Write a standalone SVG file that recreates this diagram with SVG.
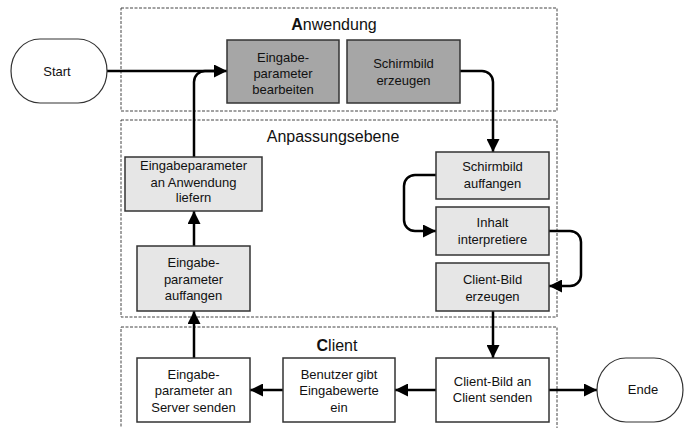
<svg xmlns="http://www.w3.org/2000/svg" width="684" height="428" viewBox="0 0 684 428">
<style>
  text { font-family: "Liberation Sans", Arial, sans-serif; fill: #111; }
  .lbl { font-size: 13px; text-anchor: middle; }
  .ttl { font-size: 16px; text-anchor: middle; }
  .grp { fill: none; stroke: #444; stroke-width: 1; stroke-dasharray: 3 1.5; }
  .dark { fill: #a6a6a6; stroke: #333; stroke-width: 1.5; }
  .light { fill: #e6e6e6; stroke: #333; stroke-width: 1.5; }
  .white { fill: #fff; stroke: #333; stroke-width: 1.5; }
  .term { fill: #fff; stroke: #333; stroke-width: 1.2; }
  .conn { fill: none; stroke: #000; stroke-width: 2.5; }
</style>
<defs>
  <marker id="arr" markerUnits="userSpaceOnUse" markerWidth="13" markerHeight="13" viewBox="0 0 12 12" refX="12" refY="6" orient="auto">
    <path d="M0,0 L12,6 L0,12 Z" fill="#000"/>
  </marker>
</defs>
<rect width="684" height="428" fill="#fff"/>

<g id="lanes">
  <g id="lane-anwendung">
    <rect class="grp" x="121" y="8" width="436" height="103"/>
    <text class="ttl" x="334" y="30"><tspan font-weight="bold">A</tspan>nwendung</text>
  </g>
  <g id="lane-anpassung">
    <rect class="grp" x="121" y="120" width="436" height="197"/>
    <text class="ttl" x="333" y="142">Anpassungsebene</text>
  </g>
  <g id="lane-client">
    <rect class="grp" x="121" y="327" width="436" height="120"/>
    <text class="ttl" x="337" y="351"><tspan font-weight="bold">C</tspan>lient</text>
  </g>
</g>

<g id="connectors">
  <path class="conn" d="M107,71 H227" marker-end="url(#arr)"/>
  <path class="conn" d="M194,157 V82 A11,11 0 0 1 205,71 H218"/>
  <path class="conn" d="M460,71 H482 A11,11 0 0 1 493,82 V152" marker-end="url(#arr)"/>
  <path class="conn" d="M436,175 H415 A11,11 0 0 0 404,186 V220 A11,11 0 0 0 415,231 H436" marker-end="url(#arr)"/>
  <path class="conn" d="M549,231 H570 A11,11 0 0 1 581,242 V275 A11,11 0 0 1 570,286 H549" marker-end="url(#arr)"/>
  <path class="conn" d="M493,311 V358" marker-end="url(#arr)"/>
  <path class="conn" d="M549,390 H597" marker-end="url(#arr)"/>
  <path class="conn" d="M436,390 H395" marker-end="url(#arr)"/>
  <path class="conn" d="M283,390 H250" marker-end="url(#arr)"/>
  <path class="conn" d="M194,358 V311" marker-end="url(#arr)"/>
  <path class="conn" d="M194,246 V211" marker-end="url(#arr)"/>
</g>

<g id="start">
  <path class="term" d="M40,39 H78 A29,32 0 0 1 78,103 H40 A29,32 0 0 1 40,39 Z"/>
  <text class="lbl" x="57" y="75.5">Start</text>
</g>

<g id="bearbeiten">
  <rect class="dark" x="227" y="40" width="112" height="63"/>
  <text class="lbl" x="283" y="61.5">Eingabe-</text>
  <text class="lbl" x="283" y="77.5">parameter</text>
  <text class="lbl" x="283" y="93.5">bearbeiten</text>
</g>

<g id="schirm-erzeugen">
  <rect class="dark" x="347" y="40" width="113" height="63"/>
  <text class="lbl" x="403.5" y="67.5">Schirmbild</text>
  <text class="lbl" x="403.5" y="84.5">erzeugen</text>
</g>

<g id="liefern">
  <rect class="light" x="125" y="157" width="137" height="54"/>
  <text class="lbl" x="193.5" y="169.5">Eingabeparameter</text>
  <text class="lbl" x="193.5" y="186.5">an Anwendung</text>
  <text class="lbl" x="193.5" y="202">liefern</text>
</g>

<g id="param-auffangen">
  <rect class="light" x="137" y="246" width="113" height="65"/>
  <text class="lbl" x="193.5" y="266.5">Eingabe-</text>
  <text class="lbl" x="193.5" y="283.5">parameter</text>
  <text class="lbl" x="193.5" y="300">auffangen</text>
</g>

<g id="schirm-auffangen">
  <rect class="light" x="436" y="152" width="113" height="47"/>
  <text class="lbl" x="492.5" y="170.5">Schirmbild</text>
  <text class="lbl" x="492.5" y="187.5">auffangen</text>
</g>

<g id="inhalt">
  <rect class="light" x="436" y="207" width="113" height="48"/>
  <text class="lbl" x="492.5" y="226.5">Inhalt</text>
  <text class="lbl" x="492.5" y="243.5">interpretiere</text>
</g>

<g id="clientbild-erzeugen">
  <rect class="light" x="436" y="263" width="113" height="48"/>
  <text class="lbl" x="492.5" y="283.5">Client-Bild</text>
  <text class="lbl" x="492.5" y="300.5">erzeugen</text>
</g>

<g id="clientbild-senden">
  <rect class="white" x="436" y="358" width="113" height="64"/>
  <text class="lbl" x="492.5" y="385.5">Client-Bild an</text>
  <text class="lbl" x="492.5" y="401.5">Client senden</text>
</g>

<g id="benutzer">
  <rect class="white" x="283" y="358" width="112" height="64"/>
  <text class="lbl" x="339" y="378.5">Benutzer gibt</text>
  <text class="lbl" x="339" y="395">Eingabewerte</text>
  <text class="lbl" x="339" y="411.5">ein</text>
</g>

<g id="server-senden">
  <rect class="white" x="137" y="358" width="113" height="64"/>
  <text class="lbl" x="193.5" y="378.5">Eingabe-</text>
  <text class="lbl" x="193.5" y="395">parameter an</text>
  <text class="lbl" x="193.5" y="411.5">Server senden</text>
</g>

<g id="ende">
  <path class="term" d="M626,358 H654 A29,32 0 0 1 654,422 H626 A29,32 0 0 1 626,358 Z"/>
  <text class="lbl" x="643" y="393.5">Ende</text>
</g>
</svg>
